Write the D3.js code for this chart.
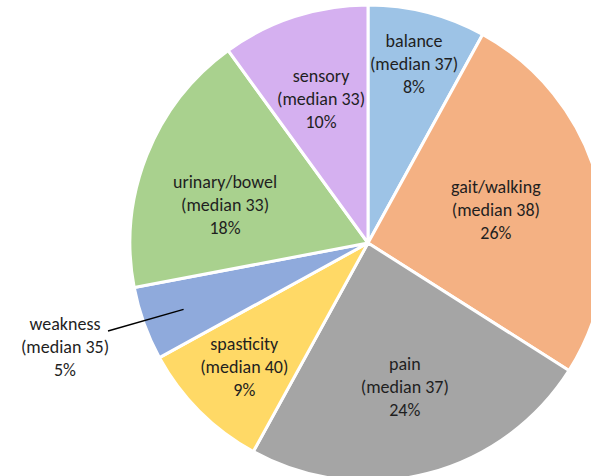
<!DOCTYPE html>
<html>
<head>
<meta charset="utf-8">
<script src="https://cdn.jsdelivr.net/npm/d3@7"></script>
<style>
  html, body { margin: 0; padding: 0; background: #fff; }
  svg { display: block; }
  text { font-family: Carlito, Lato, "Liberation Sans", sans-serif; }
</style>
</head>
<body>
<svg id="chart" width="591" height="476"></svg>
<script>
// Symptom categories, in clockwise order from 12 o'clock
const categories = ["balance", "gait/walking", "pain", "spasticity", "weakness", "urinary/bowel", "sensory"];
const medians    = [37, 38, 37, 40, 35, 33, 33];
const shares     = [8, 26, 24, 9, 5, 18, 10];
const colors     = ["#9DC3E6", "#F4B183", "#A5A5A5", "#FFD966", "#8FAADC", "#A9D18E", "#D5B0F0"];

// Label placement: radius from centre for each slice's label block,
// and an optional angle (degrees clockwise from 12 o'clock) overriding the slice midpoint
const labelRadius = [185, 132, 148, 175, null, 148, 152];
const labelAngle  = [null, null, null, null, null, 285, null];

const width = 591, height = 476;
const cx = 368, cy = 243, R = 238;

const svg = d3.select("#chart");
const g = svg.append("g").attr("transform", `translate(${cx},${cy})`);

const data = categories.map((c, i) => ({
  name: c, median: medians[i], share: shares[i], color: colors[i],
  lr: labelRadius[i], la: labelAngle[i]
}));

const pie = d3.pie().value(d => d.share).sort(null);
const arcs = pie(data);
const arc = d3.arc().innerRadius(0).outerRadius(R);

g.selectAll("path.slice")
  .data(arcs)
  .join("path")
  .attr("class", "slice")
  .attr("d", arc)
  .attr("fill", d => d.data.color)
  .attr("stroke", "#fff")
  .attr("stroke-width", 3)
  .attr("stroke-linejoin", "round");

const lineGap = 23;
function drawLabel(x, y, d) {
  const t = g.append("text")
    .attr("x", x).attr("y", y)
    .attr("text-anchor", "middle")
    .attr("font-size", 18)
    .attr("fill", "#1f1f1f");
  const lines = [d.name, `(median ${d.median})`, `${d.share}%`];
  lines.forEach((s, k) => {
    t.append("tspan")
      .attr("x", x)
      .attr("y", y + (k - 1) * lineGap)
      .attr("dy", "0.35em")
      .text(s);
  });
}

arcs.forEach(a => {
  const mid = (a.startAngle + a.endAngle) / 2;
  if (a.data.lr != null) {
    const ang = a.data.la != null ? a.data.la * Math.PI / 180 : mid;
    const x = a.data.lr * Math.sin(ang);
    const y = -a.data.lr * Math.cos(ang);
    drawLabel(x, y, a.data);
  } else {
    // small slice: label sits outside with a leader line
    const inner = 196;
    const px = inner * Math.sin(mid), py = -inner * Math.cos(mid);
    const lx = 65 - cx, ly = 347 - cy;
    g.append("line")
      .attr("x1", px).attr("y1", py)
      .attr("x2", lx + 43).attr("y2", ly - 16)
      .attr("stroke", "#000").attr("stroke-width", 1.5);
    drawLabel(lx, ly, a.data);
  }
});
</script>
</body>
</html>
